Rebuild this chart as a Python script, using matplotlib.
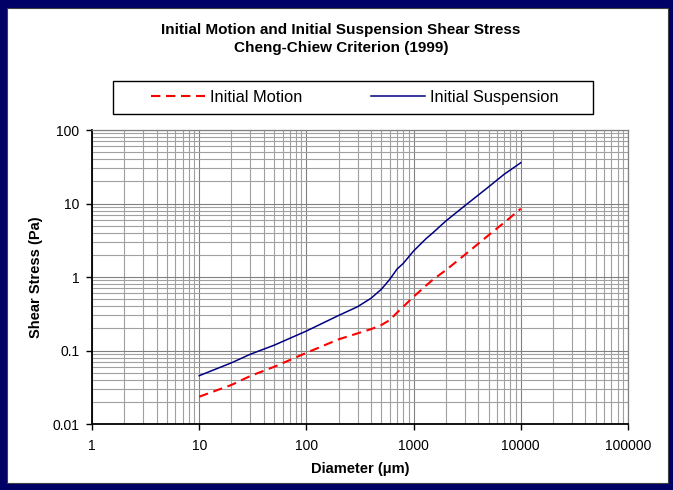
import matplotlib.pyplot as plt
from matplotlib.patches import Rectangle
from matplotlib.ticker import FixedLocator, FixedFormatter, LogLocator, NullFormatter

plt.rcParams['font.family'] = ['Liberation Sans', 'DejaVu Sans']

# Diameter (um) and shear stress (Pa)
diameter = [10, 20, 30, 50, 100, 200, 300, 400, 500, 600, 700, 800,
            1000, 1300, 1500, 2000, 3000, 5000, 7000, 10000]
initial_motion = [0.0235, 0.034, 0.045, 0.060, 0.093, 0.142, 0.171, 0.195, 0.222, 0.26,
                  0.327, 0.394, 0.54, 0.76, 0.91, 1.24, 2.0, 3.7, 5.5, 8.5]
initial_suspension = [0.0454, 0.068, 0.089, 0.118, 0.184, 0.30, 0.394, 0.513, 0.68, 0.93,
                      1.28, 1.53, 2.26, 3.3, 3.95, 5.78, 9.3, 16.8, 25.0, 35.9]

x_ticks = [1, 10, 100, 1000, 10000, 100000]
x_tick_labels = ['1', '10', '100', '1000', '10000', '100000']
y_ticks = [0.01, 0.1, 1, 10, 100]
y_tick_labels = ['0.01', '0.1', '1', '10', '100']

W, H = 673, 490
fig = plt.figure(figsize=(W / 100, H / 100), dpi=100)
fig.patch.set_facecolor('#000066')

# white panel inside the navy frame
fig.patches.append(Rectangle((7 / W, 1 - 483 / H), (668 - 7) / W, (483 - 8) / H,
                             transform=fig.transFigure, facecolor='white',
                             edgecolor='#404040', linewidth=0.8, zorder=-2))
# legend box
fig.patches.append(Rectangle((113 / W, 1 - 114 / H), (593 - 113) / W, (114 - 81) / H,
                             transform=fig.transFigure, facecolor='white',
                             edgecolor='black', linewidth=1.0, zorder=-1))

ax = fig.add_axes([92 / W, 1 - 424 / H, (628 - 92) / W, (424 - 130) / H])
ax.set_xscale('log')
ax.set_yscale('log')
ax.set_xlim(1, 100000)
ax.set_ylim(0.01, 100)

# 网格线
ax.xaxis.set_minor_locator(LogLocator(base=10, subs=range(2, 10)))
ax.yaxis.set_minor_locator(LogLocator(base=10, subs=range(2, 10)))
ax.xaxis.set_minor_formatter(NullFormatter())
ax.yaxis.set_minor_formatter(NullFormatter())
ax.grid(True, which='major', color='#808080', linewidth=0.8)
ax.grid(True, which='minor', color='#a0a0a0', linewidth=0.8)
ax.set_axisbelow(True)

ax.plot(diameter, initial_motion, color='#ff0000', linewidth=1.5,
        dashes=(4.5, 2.7), label='Initial Motion')
ax.plot(diameter, initial_suspension, color='#000080', linewidth=1.1,
        label='Initial Suspension')

ax.xaxis.set_major_locator(FixedLocator(x_ticks))
ax.xaxis.set_major_formatter(FixedFormatter(x_tick_labels))
ax.yaxis.set_major_locator(FixedLocator(y_ticks))
ax.yaxis.set_major_formatter(FixedFormatter(y_tick_labels))
ax.tick_params(which='major', direction='out', length=4, width=1, labelsize=10,
               colors='black', pad=5)
ax.tick_params(axis='x', pad=7)
ax.tick_params(which='minor', length=0)

for side in ['left', 'bottom']:
    ax.spines[side].set_color('black')
    ax.spines[side].set_linewidth(1.3)
for side in ['top', 'right']:
    ax.spines[side].set_color('#808080')
    ax.spines[side].set_linewidth(0.9)

ax.set_xlabel('Diameter (\u03bcm)', fontsize=10.5, fontweight='bold', labelpad=6)
ax.set_ylabel('Shear Stress (Pa)', fontsize=10.5, fontweight='bold', labelpad=7)

fig.text(341 / W, 1 - 30 / H, 'Initial Motion and Initial Suspension Shear Stress',
         ha='center', va='center', fontsize=11, fontweight='bold')
fig.text(341 / W, 1 - 48 / H, 'Cheng-Chiew Criterion (1999)',
         ha='center', va='center', fontsize=11, fontweight='bold')

# 图例
handles, labels = ax.get_legend_handles_labels()
leg = fig.legend(handles, labels, loc='center', ncol=2,
                 bbox_to_anchor=(355 / W, 1 - 97.5 / H),
                 fontsize=11.8, frameon=False, handlelength=3.3, handletextpad=0.3,
                 columnspacing=4.2, borderaxespad=0, borderpad=0)

fig.savefig('out.png', dpi=100, facecolor=fig.get_facecolor())
